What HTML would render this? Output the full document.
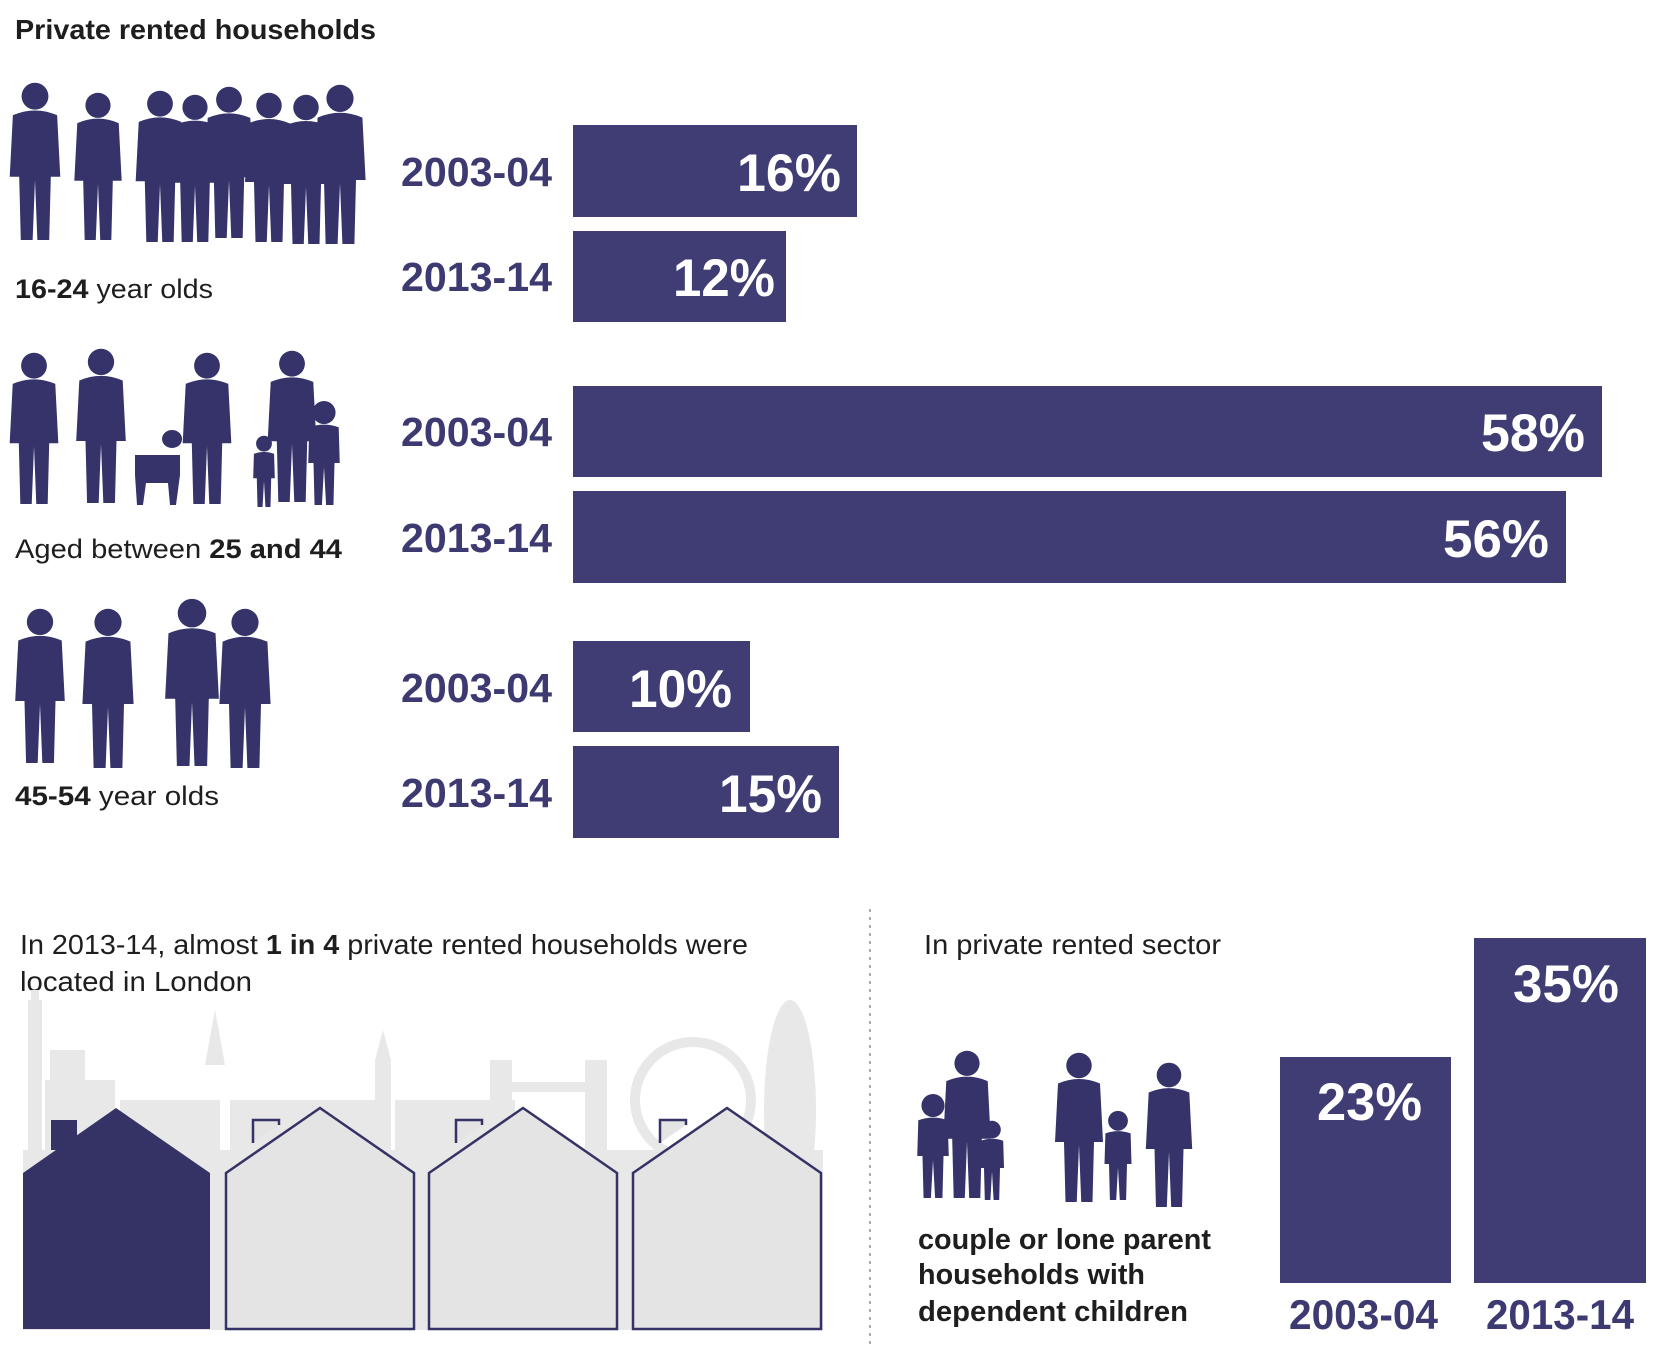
<!DOCTYPE html>
<html><head><meta charset="utf-8"><style>
html,body{margin:0;padding:0;background:#fff;}
svg{display:block;font-family:"Liberation Sans",sans-serif;}
</style></head><body>
<svg width="1658" height="1346" viewBox="0 0 1658 1346" xmlns="http://www.w3.org/2000/svg">
<defs>
<g id="p" fill="#35336a">
<circle cx="0" cy="9" r="8.5"/>
<path d="M-14,21 Q0,15 14,21 L16,60 L10,60 L9,100 L1.5,100 L0,62 L-1.5,100 L-9,100 L-10,60 L-16,60 Z"/>
</g>
<g id="k" fill="#35336a">
<circle cx="0" cy="12" r="11"/>
<path d="M-14,26 Q0,21 14,26 L15,60 L10,60 L9,100 L2,100 L0,64 L-2,100 L-9,100 L-10,60 L-15,60 Z"/>
</g>
</defs>

<text x="15" y="39" font-size="28" font-weight="bold" fill="#1e1e1e" textLength="361" lengthAdjust="spacingAndGlyphs">Private rented households</text>

<!-- group 1 -->
<g>
<use href="#p" transform="translate(35,82) scale(1.58)"/>
<use href="#p" transform="translate(98,92) scale(1.48)"/>
<use href="#p" transform="translate(160,90) scale(1.52)"/>
<use href="#p" transform="translate(195,94) scale(1.48)"/>
<use href="#p" transform="translate(229,86) scale(1.52)"/>
<use href="#p" transform="translate(269,92) scale(1.5)"/>
<use href="#p" transform="translate(306,94) scale(1.5)"/>
<use href="#p" transform="translate(340,84) scale(1.6)"/>
</g>
<text x="15" y="298" font-size="27" fill="#1e1e1e" textLength="198" lengthAdjust="spacingAndGlyphs"><tspan font-weight="bold">16-24</tspan> year olds</text>

<!-- group 2 -->
<g>
<use href="#p" transform="translate(34,352) scale(1.52)"/>
<use href="#p" transform="translate(101,348) scale(1.55)"/>
<path d="M135,455 h45 v20 l-4,30 h-6 l-2,-22 h-22 l-3,22 h-6 l-2,-30 z M172,448 a10,9 0 1 1 0.1,0" fill="#35336a"/>
<use href="#p" transform="translate(207,352) scale(1.52)"/>
<use href="#k" transform="translate(264,435) scale(0.72)"/>
<use href="#p" transform="translate(292,350) scale(1.52)"/>
<use href="#k" transform="translate(324,400) scale(1.05)"/>
</g>
<text x="15" y="558" font-size="27" fill="#1e1e1e" textLength="327" lengthAdjust="spacingAndGlyphs">Aged between <tspan font-weight="bold">25 and 44</tspan></text>

<!-- group 3 -->
<g>
<use href="#p" transform="translate(40,608) scale(1.55)"/>
<use href="#p" transform="translate(108,608) scale(1.6)"/>
<use href="#p" transform="translate(192,598) scale(1.68)"/>
<use href="#p" transform="translate(245,608) scale(1.6)"/>
</g>
<text x="15" y="805" font-size="27" fill="#1e1e1e" textLength="204" lengthAdjust="spacingAndGlyphs"><tspan font-weight="bold">45-54</tspan>  year olds</text>

<!-- bars -->
<g fill="#3f3d73">
<rect x="573" y="125" width="284" height="92"/>
<rect x="573" y="231" width="213" height="91"/>
<rect x="573" y="386" width="1029" height="91"/>
<rect x="573" y="491" width="993" height="92"/>
<rect x="573" y="641" width="177" height="91"/>
<rect x="573" y="746" width="266" height="92"/>
</g>
<g font-size="41" font-weight="bold" fill="#3d3a72">
<text x="401" y="186" textLength="151" lengthAdjust="spacingAndGlyphs">2003-04</text>
<text x="401" y="291" textLength="151" lengthAdjust="spacingAndGlyphs">2013-14</text>
<text x="401" y="446" textLength="151" lengthAdjust="spacingAndGlyphs">2003-04</text>
<text x="401" y="552" textLength="151" lengthAdjust="spacingAndGlyphs">2013-14</text>
<text x="401" y="702" textLength="151" lengthAdjust="spacingAndGlyphs">2003-04</text>
<text x="401" y="807" textLength="151" lengthAdjust="spacingAndGlyphs">2013-14</text>
</g>
<g font-size="53" font-weight="bold" fill="#fff">
<text x="737" y="191" textLength="104" lengthAdjust="spacingAndGlyphs">16%</text>
<text x="673" y="296" textLength="102" lengthAdjust="spacingAndGlyphs">12%</text>
<text x="1481" y="451" textLength="104" lengthAdjust="spacingAndGlyphs">58%</text>
<text x="1443" y="557" textLength="106" lengthAdjust="spacingAndGlyphs">56%</text>
<text x="629" y="707" textLength="103" lengthAdjust="spacingAndGlyphs">10%</text>
<text x="719" y="812" textLength="103" lengthAdjust="spacingAndGlyphs">15%</text>
</g>

<!-- divider -->
<line x1="870" y1="909" x2="870" y2="1346" stroke="#aaa" stroke-width="2" stroke-dasharray="3,5"/>

<!-- London -->
<text x="20" y="954" font-size="28" fill="#1e1e1e" textLength="728" lengthAdjust="spacingAndGlyphs">In 2013-14, almost <tspan font-weight="bold">1 in 4</tspan> private rented households were</text>
<text x="20" y="991" font-size="28" fill="#1e1e1e" textLength="232" lengthAdjust="spacingAndGlyphs">located in London</text>

<g fill="#e8e8e8">
<rect x="23" y="1150" width="800" height="180"/>
<rect x="28" y="1000" width="14" height="160"/>
<rect x="32" y="1040" width="6" height="-1"/>
<rect x="31" y="990" width="8" height="30"/>
<rect x="45" y="1080" width="70" height="80"/>
<rect x="50" y="1050" width="35" height="40"/>
<rect x="120" y="1100" width="100" height="60"/>
<path d="M205,1065 L215,1010 L225,1065 Z"/>
<rect x="230" y="1100" width="150" height="60"/>
<rect x="375" y="1060" width="16" height="100"/>
<path d="M375,1060 L383,1030 L391,1060 Z"/>
<rect x="395" y="1100" width="120" height="60"/>
<rect x="490" y="1060" width="22" height="100"/>
<rect x="585" y="1060" width="22" height="100"/>
<rect x="495" y="1082" width="110" height="10"/>
<circle cx="693" cy="1100" r="58" fill="none" stroke="#e8e8e8" stroke-width="10"/>
<ellipse cx="790" cy="1110" rx="26" ry="110"/>
</g>

<!-- houses -->
<path d="M23,1173 L116,1108 L210,1173 L210,1329 L23,1329 Z M51,1120 h26 v30 h-26 z" fill="#353365"/>
<g fill="#e4e4e4" stroke="#353365" stroke-width="2.5">
<path d="M253,1143 v-23 h26 v5 M226,1173 L320,1108 L414,1173 L414,1329 L226,1329 Z"/>
<path d="M456,1143 v-23 h26 v5 M429,1173 L523,1108 L617,1173 L617,1329 L429,1329 Z"/>
<path d="M660,1143 v-23 h26 v5 M633,1173 L727,1108 L821,1173 L821,1329 L633,1329 Z"/>
</g>

<!-- right section -->
<text x="924" y="954" font-size="28" fill="#1e1e1e" textLength="297" lengthAdjust="spacingAndGlyphs">In private rented sector</text>
<g>
<use href="#k" transform="translate(933,1093) scale(1.05)"/>
<use href="#p" transform="translate(967,1050) scale(1.48)"/>
<use href="#k" transform="translate(992,1120) scale(0.8)"/>
<use href="#p" transform="translate(1079,1052) scale(1.5)"/>
<use href="#k" transform="translate(1118,1110) scale(0.9)"/>
<use href="#p" transform="translate(1169,1062) scale(1.45)"/>
</g>
<g font-size="29" font-weight="bold" fill="#1e1e1e">
<text x="918" y="1249" textLength="293" lengthAdjust="spacingAndGlyphs">couple or lone parent</text>
<text x="918" y="1284" textLength="227" lengthAdjust="spacingAndGlyphs">households with</text>
<text x="918" y="1321" textLength="270" lengthAdjust="spacingAndGlyphs">dependent children</text>
</g>
<rect x="1280" y="1057" width="171" height="226" fill="#3f3d73"/>
<rect x="1474" y="938" width="172" height="345" fill="#3f3d73"/>
<text x="1317" y="1120" font-size="53" font-weight="bold" fill="#fff" textLength="105" lengthAdjust="spacingAndGlyphs">23%</text>
<text x="1513" y="1002" font-size="53" font-weight="bold" fill="#fff" textLength="106" lengthAdjust="spacingAndGlyphs">35%</text>
<text x="1289" y="1329" font-size="42" font-weight="bold" fill="#3d3a72" textLength="149" lengthAdjust="spacingAndGlyphs">2003-04</text>
<text x="1486" y="1329" font-size="42" font-weight="bold" fill="#3d3a72" textLength="148" lengthAdjust="spacingAndGlyphs">2013-14</text>
</svg>
</body></html>
